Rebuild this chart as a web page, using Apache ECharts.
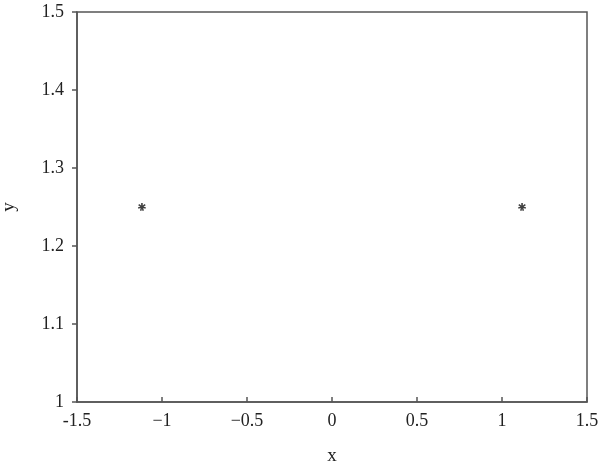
<!DOCTYPE html>
<html><head><meta charset="utf-8">
<script src="https://cdn.jsdelivr.net/npm/echarts@6/dist/echarts.min.js"></script>
<style>html,body{margin:0;padding:0;background:#fff}#c{width:600px;height:469px}</style>
</head><body><div id="c"></div>
<script>
var xValues = [-1.118, 1.118];
var yValues = [1.25, 1.25];
var xTickLabels = {"-1.5":"-1.5","-1":"\u22121","-0.5":"\u22120.5","0":"0","0.5":"0.5","1":"1","1.5":"1.5"};
var points = xValues.map(function(x,i){return [x, yValues[i]];});
var font = '"Liberation Serif","DejaVu Serif",serif';
var axisColor = '#555';
var chart = echarts.init(document.getElementById('c'), null, {renderer:'canvas'});
chart.setOption({
  animation:false,
  backgroundColor:'#fff',
  grid:{left:77,right:13,top:12,bottom:67,containLabel:false,outerBoundsMode:'none',show:true,borderColor:axisColor,borderWidth:1.5},
  xAxis:{type:'value',min:-1.5,max:1.5,interval:0.5,name:'x',nameLocation:'middle',nameGap:45,
    nameTextStyle:{fontFamily:font,fontSize:19,color:'#222'},
    axisLine:{onZero:false,lineStyle:{color:axisColor,width:1.5}},
    axisTick:{inside:true,length:5,lineStyle:{color:axisColor,width:1.5}},
    splitLine:{show:false},
    axisLabel:{fontFamily:font,fontSize:18,color:'#222',margin:10,
      formatter:function(v){var k=String(Math.round(v*10)/10);return xTickLabels[k]!==undefined?xTickLabels[k]:k;}}},
  yAxis:{type:'value',min:1,max:1.5,interval:0.1,name:'y',nameLocation:'middle',nameGap:58,
    nameTextStyle:{fontFamily:font,fontSize:19,color:'#222'},
    axisLine:{onZero:false,lineStyle:{color:axisColor,width:1.5}},
    axisTick:{inside:false,length:5,lineStyle:{color:axisColor,width:1.5}},
    splitLine:{show:false},
    axisLabel:{fontFamily:font,fontSize:18,color:'#222',margin:13,
      formatter:function(v){return String(Math.round(v*10)/10);}}},
  series:[{type:'scatter',data:points,symbol:'path://M4,0L6,0L6,3L8.5,1.2L9.7,2.8L7,4.5L10,5.3L9.4,7.1L6.6,6.2L7.5,9.2L5.7,9.8L5,7L4.3,9.8L2.5,9.2L3.4,6.2L0.6,7.1L0,5.3L3,4.5L0.3,2.8L1.5,1.2L4,3Z',
    symbolSize:8,itemStyle:{color:'#111'}}]
});
</script></body></html>
